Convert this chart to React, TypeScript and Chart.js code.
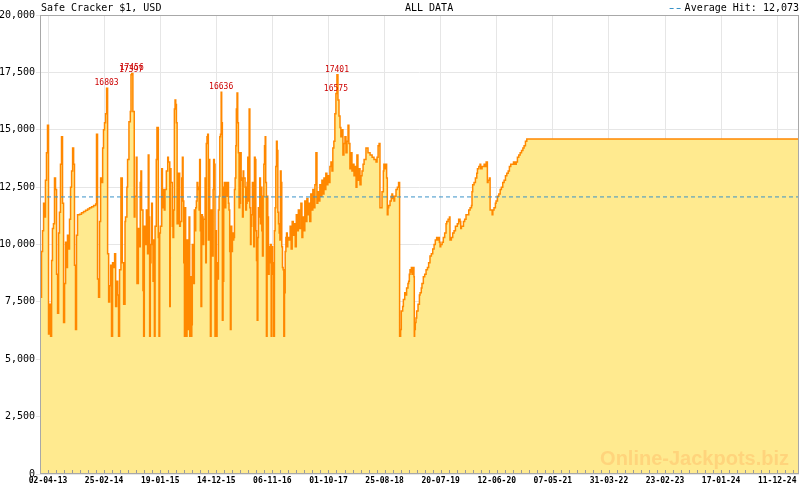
import React, { useEffect, useRef } from 'react';
import { Chart, registerables } from 'chart.js';

Chart.register(...registerables);

// ---- data ----
const chartTitle = 'Safe Cracker $1, USD';
const rangeLabel = 'ALL DATA';
const AVERAGE_HIT = 12073;

// x-axis labels (dd-mm-yy), one every LABEL_STEP_DAYS days starting at day 0 (02-04-13)
const tickLabels = ['02-04-13', '25-02-14', '19-01-15', '14-12-15', '06-11-16', '01-10-17', '25-08-18', '20-07-19', '12-06-20', '07-05-21', '31-03-22', '23-02-23', '17-01-24', '11-12-24'];
const LABEL_STEP_DAYS = 328.5;
const MINOR_PER_LABEL = 7;
const X_MAX_DAYS = 4398;

// jackpot history: days since 02-04-13 and jackpot amount (USD)
const jackpotDays = [
  -44, -38, -32, -26, -21, -15, -9, -3, 3, 9, 15, 21, 26, 32, 38, 44, 50, 56, 62, 67, 73, 79, 85, 91, 97, 103, 108, 114, 120, 126, 132, 138, 144, 150, 155, 161, 167, 173,
  185, 196, 208, 220, 232, 243, 255, 267, 279, 284, 290, 296, 302, 308, 314, 320, 325, 331, 337, 343, 349, 355, 361, 367, 372, 378, 384, 390, 396, 402, 408, 413, 419,
  427, 435, 443, 451, 454, 462, 466, 474, 482, 486, 490, 497, 505, 509, 517, 521, 529, 533, 540, 544, 548, 556, 560, 564, 568, 576, 583, 587, 591, 595, 599, 603, 607, 611, 615, 619, 623, 627, 634, 638, 646, 650, 654, 658, 666, 670, 673, 681, 685, 693, 701, 705, 713, 716, 720, 728, 732, 736, 740, 744, 748, 752, 756, 763, 771, 775, 783, 787, 791, 795, 799, 802, 806, 810, 814, 818, 822, 826, 830, 834, 838, 842, 845, 849, 857, 861, 865, 869, 873, 877, 881, 885, 888,
  892, 896, 900, 904, 908, 912, 920, 924, 927, 931, 935, 939, 943, 947, 951, 955, 959, 963, 967, 970, 974, 978, 982, 986, 990, 994, 998, 1002, 1006, 1010, 1014, 1017, 1021, 1025, 1029, 1033, 1037, 1041, 1045, 1049, 1053, 1057, 1060, 1064, 1068, 1072, 1076, 1080, 1084, 1088, 1092, 1096, 1100, 1103, 1107, 1111, 1115, 1119, 1123, 1127, 1131, 1135, 1139, 1143, 1146, 1150, 1154, 1158, 1162, 1166, 1170, 1174, 1178, 1182, 1186, 1189, 1193, 1197, 1201, 1205, 1209, 1213, 1217, 1221, 1225, 1229, 1232, 1236, 1240, 1244, 1248, 1252, 1256, 1260, 1264, 1268, 1272, 1275, 1279, 1283, 1287, 1291, 1295, 1299, 1303, 1307, 1311, 1315, 1318, 1322, 1326, 1330, 1334, 1338, 1342, 1346, 1350, 1354, 1358, 1361, 1365, 1369, 1373, 1377, 1381, 1385, 1389, 1393, 1397, 1401, 1404, 1408, 1412,
  1418, 1424, 1430, 1436, 1442, 1448, 1454, 1460, 1466, 1472, 1481, 1487, 1492, 1498, 1504, 1510, 1516, 1522, 1528, 1533, 1539, 1545, 1551, 1557, 1563, 1569, 1575, 1580, 1586, 1592, 1598, 1604, 1610, 1616, 1621, 1627, 1633, 1639, 1645, 1651, 1657, 1663, 1668, 1674, 1680, 1686, 1692, 1698, 1704, 1710, 1715, 1721, 1727, 1733, 1739, 1745, 1751, 1757, 1762, 1768, 1774, 1780, 1786, 1792, 1798, 1804, 1809, 1815, 1821, 1827, 1833, 1839, 1845, 1851, 1862, 1874, 1886, 1898, 1909, 1921, 1927, 1933, 1939,
  1944, 1956, 1964, 1967, 1975, 1979, 1983, 1987, 1991, 1995, 2003, 2010, 2014, 2018, 2022, 2026, 2030, 2038, 2046, 2053, 2057, 2059, 2065, 2069, 2077, 2081, 2089, 2096, 2100, 2108, 2112, 2116, 2120, 2124, 2128, 2132, 2136, 2139, 2143, 2145, 2147, 2151, 2155, 2159, 2167, 2175, 2179, 2186, 2190, 2198, 2206, 2214, 2222, 2229, 2237, 2245, 2253, 2261, 2268, 2276, 2284, 2288, 2292, 2296, 2300, 2308, 2315, 2323, 2331, 2335, 2343, 2351, 2354, 2362, 2370, 2378, 2386, 2394, 2397, 2405, 2409, 2413, 2417, 2421, 2429, 2433, 2440, 2448, 2456, 2464, 2472, 2480, 2483, 2487, 2495, 2503, 2511, 2515, 2523, 2530, 2534, 2542, 2550, 2554, 2562, 2566, 2570, 2573, 2577, 2585, 2589, 2597, 2601, 2605, 2612, 2620, 2624, 2632, 2640, 2648, 2655, 2663, 2671, 2679, 2687, 2695, 2702, 2710, 2718, 2726, 2734, 2742, 2749, 2757, 2765, 2773, 2781, 2788, 2796, 2804, 4395,
];
const jackpotValues = [
  7700, 9700, 10600, 11800, 11200, 12800, 14000, 15200, 6100, 7400, 6000, 9300, 10700, 10900, 12900, 12400, 8700, 7000, 10500, 11400, 13500, 14700, 11800, 6600, 8300, 10100, 9000, 10400, 9800, 11100, 12500, 13200, 14200, 13500, 9100, 6300, 10400, 11300,
  11320, 11380, 11440, 11490, 11550, 11600, 11650, 11700, 11760, 14800, 8500, 7700, 11000, 12900, 12700, 14200, 15000, 15300, 15700, 16803, 9600, 7500, 8200, 9100, 6000, 9200, 9000, 9600, 7300, 8400, 7800, 6000, 8900,
  12900, 9200, 7400, 11000, 11200, 12500, 13700, 15350, 15800, 17397, 17456, 15800, 11200, 12100, 13800, 8300, 10700, 9900, 12700, 13200, 11500, 8000, 6000, 10800, 10000, 11500, 9600, 13900, 11200, 6000, 9200, 10000, 11800, 10200, 8400, 10200, 6000, 10800, 13700, 15100, 10300, 6000, 10500, 10800, 13300, 11600, 12400, 11500, 12400, 13200, 13800, 13600, 7300, 13300, 12700, 10800, 10300, 11500, 15900, 16300, 16100, 15300, 10900, 13100, 10800, 11000, 12900, 13800, 11900, 9200, 6000, 11600, 6400, 6000, 10200, 9300, 6300, 11200, 6000, 8600, 6000, 6500, 10000, 8300, 11500, 10600, 11600, 11900, 12700, 12400, 12500, 11500, 13700,
  10600, 7300, 11300, 11200, 10000, 11100, 12900, 9200, 14400, 14700, 14800, 10200, 13700, 11500, 6000, 10600, 11500, 9500, 12400, 13700, 13500, 6000, 10600, 6000, 9200, 8500, 11500, 12100, 14700, 14800, 16636, 15300, 6700, 8400, 12500, 12700, 11600, 12700, 12100, 12500, 12700, 11800, 11500, 9700, 6300, 10800, 9700, 10500, 10200, 10300, 12400, 12900, 14300, 15900, 16600, 15300, 14000, 11600, 11800, 14000, 12900, 12800, 11200, 13200, 12900, 12900, 12500, 11500, 11800, 12700, 13800, 11900, 15900, 11600, 10000, 10800, 11300, 12700, 12100, 9900, 13800, 13700, 10600, 9300, 6700, 10300, 11600, 11200, 12900, 10900, 12500, 10600, 9500, 12100, 13500, 14300, 14700, 12700, 6000, 12100, 11200, 8700, 9900, 9200, 10000, 6000, 9900, 9200, 8700, 6000, 10600, 11600, 13400, 14500, 14100, 11400, 10900, 10500, 10200, 13200, 12700, 9900, 9000, 8900, 6000, 7900, 9700, 10300, 10500, 9900, 10200, 10300, 10200,
  10800, 9800, 11000, 10400, 10900, 9900, 11300, 10600, 11500, 10700, 11800, 10300, 11200, 10600, 11900, 11000, 12000, 11300, 11800, 11000, 12200, 11500, 12400, 11600, 12600, 14000, 11800, 12300, 11900, 12600, 12100, 12800, 12200, 12900, 12400, 13100, 12600, 13000, 12700, 13400, 13600, 13200, 14200, 14500, 15700, 16575, 17401, 16300, 15600, 15100, 14700, 15000, 13900, 14400, 14700, 14000, 14500, 15200, 14400, 13300, 14000, 13200, 13500, 13000, 13400, 12500, 13900, 12800, 13300, 12600, 13000, 13200, 13500, 13700, 14200, 14000, 13900, 13800, 13700, 13600, 13800, 14300, 14400,
  11600, 12300, 13200, 13500, 13300, 13500, 12900, 11300, 11600, 11700, 11900, 12100, 12200, 12000, 12100, 11900, 12100, 12400, 12500, 12700, 12700, 6000, 6300, 7100, 7300, 7600, 7900, 7800, 8100, 8300, 8400, 8700, 8900, 8800, 9000, 8700, 8900, 9000, 8600, 6000, 6300, 6600, 6800, 7100, 7400, 7800, 7900, 8100, 8300, 8600, 8700, 8900, 9000, 9200, 9500, 9600, 9800, 10000, 10200, 10300, 10200, 10300, 10100, 9900, 10000, 10100, 10300, 10500, 10900, 11000, 11100, 11200, 10200, 10300, 10500, 10600, 10800, 10800, 10900, 11100, 11100, 11000, 10700, 10800, 10800, 11000, 11100, 11300, 11300, 11500, 11600, 11700, 12300, 12600, 12700, 12900, 13100, 13300, 13400, 13500, 13300, 13400, 13400, 13500, 13400, 13600, 13600, 12700, 12800, 12900, 11500, 11500, 11300, 11500, 11600, 11800, 11900, 12100, 12200, 12400, 12500, 12700, 12800, 13000, 13100, 13200, 13400, 13500, 13500, 13600, 13500, 13600, 13800, 13900, 14000, 14100, 14200, 14300, 14500, 14600, 14600,
];

// labelled top hits
const peakDays = [343, 486, 490, 1014, 1686, 1692];
const peakValues = [16803, 17397, 17456, 16636, 16575, 17401];

const watermark = 'Online-Jackpots.biz';

// ---- styles ----
const ORANGE = '#ff8800';
const FILL = '#ffea8f';
const AVG_BLUE = '#3a93c8';
const GRID = '#e6e6e6';
const AXIS = '#a8a8a8';
const MONO = '"DejaVu Sans Mono", monospace';

const decorPlugin = {
  id: 'decor',
  afterDatasetsDraw(chart: any) {
    const { ctx, chartArea: a, scales } = chart;
    const x = scales.x;
    const y = scales.y;
    ctx.save();
    // watermark
    ctx.font = 'bold 20px "Liberation Sans", sans-serif';
    ctx.fillStyle = '#ffd47c';
    ctx.textAlign = 'right';
    ctx.textBaseline = 'alphabetic';
    ctx.fillText(watermark, a.right - 10, a.bottom - 9);
    // minor tick marks on x axis, pointing up
    ctx.strokeStyle = '#9a9a9a';
    ctx.lineWidth = 1;
    x.ticks.forEach((t: any) => {
      const px = Math.round(x.getPixelForValue(t.value)) + 0.5;
      ctx.beginPath();
      ctx.moveTo(px, a.bottom);
      ctx.lineTo(px, a.bottom - 4);
      ctx.stroke();
    });
    // frame
    ctx.strokeStyle = AXIS;
    ctx.strokeRect(Math.round(a.left) + 0.5, Math.round(a.top) + 0.5, Math.round(a.right - a.left) - 1, Math.round(a.bottom - a.top) - 1);
    // peak annotations
    ctx.font = '8px ' + MONO;
    ctx.fillStyle = '#cc0000';
    ctx.textAlign = 'center';
    ctx.textBaseline = 'bottom';
    peakDays.forEach((d, i) => {
      ctx.fillText(String(peakValues[i]), x.getPixelForValue(d), y.getPixelForValue(peakValues[i]) - 1);
    });
    ctx.restore();
  },
  afterDraw(chart: any) {
    const { ctx, chartArea: a } = chart;
    ctx.save();
    ctx.font = '10px ' + MONO;
    ctx.fillStyle = '#000';
    ctx.textBaseline = 'middle';
    ctx.textAlign = 'left';
    ctx.fillText(chartTitle, a.left + 1, 8);
    ctx.fillText(rangeLabel, 405, 8);
    ctx.textAlign = 'right';
    const legendText = 'Average Hit: ' + AVERAGE_HIT.toLocaleString('en-US');
    ctx.fillText(legendText, a.right, 8);
    const w = ctx.measureText(legendText).width;
    ctx.strokeStyle = AVG_BLUE;
    ctx.lineWidth = 1;
    ctx.setLineDash([4, 3]);
    ctx.beginPath();
    ctx.moveTo(a.right - w - 15, 8.5);
    ctx.lineTo(a.right - w - 2, 8.5);
    ctx.stroke();
    ctx.restore();
  },
};

export default function App() {
  const ref = useRef<HTMLCanvasElement>(null);
  useEffect(() => {
    if (!ref.current) return;
    const xMin = -LABEL_STEP_DAYS / MINOR_PER_LABEL;
    const points = jackpotDays.map((d, i) => ({ x: d, y: jackpotValues[i] }));
    const chart = new Chart(ref.current, {
      type: 'line',
      data: {
        datasets: [
          {
            label: 'Average Hit',
            data: [
              { x: xMin, y: AVERAGE_HIT },
              { x: X_MAX_DAYS, y: AVERAGE_HIT },
            ],
            borderColor: AVG_BLUE,
            borderWidth: 1,
            borderDash: [4, 3],
            pointRadius: 0,
            fill: false,
          },
          {
            label: chartTitle,
            data: points,
            stepped: true,
            borderColor: ORANGE,
            borderWidth: 1.5,
            backgroundColor: FILL,
            fill: 'origin',
            pointRadius: 0,
          },
        ],
      },
      options: {
        animation: false,
        responsive: false,
        maintainAspectRatio: false,
        layout: { padding: { top: 15, right: 1, left: 0, bottom: 0 } },
        plugins: { legend: { display: false }, tooltip: { enabled: false }, title: { display: false } },
        scales: {
          x: {
            type: 'linear',
            min: xMin,
            max: X_MAX_DAYS,
            afterBuildTicks: (scale: any) => {
              const ticks: any[] = [];
              for (let k = 0; ; k++) {
                const v = xMin + k * (LABEL_STEP_DAYS / MINOR_PER_LABEL);
                if (v > X_MAX_DAYS) break;
                ticks.push({ value: v });
              }
              scale.ticks = ticks;
            },
            ticks: {
              autoSkip: false,
              maxRotation: 0,
              minRotation: 0,
              padding: 2,
              color: '#000',
              font: { family: MONO, size: 8, weight: 'bold' },
              callback: (_v: any, i: number) => ((i - 1) % MINOR_PER_LABEL === 0 ? tickLabels[(i - 1) / MINOR_PER_LABEL] ?? '' : ''),
            },
            grid: {
              drawTicks: false,
              color: (c: any) => ((c.index - 1) % MINOR_PER_LABEL === 0 ? GRID : 'rgba(0,0,0,0)'),
            },
            border: { display: false },
            afterFit: (s: any) => {
              s.height = 16;
            },
          },
          y: {
            min: 0,
            max: 20000,
            ticks: {
              stepSize: 2500,
              padding: 1,
              color: '#000',
              font: { family: MONO, size: 10 },
              callback: (v: any) => Number(v).toLocaleString('en-US'),
            },
            grid: { color: GRID, tickLength: 4 },
            border: { display: false },
            afterFit: (s: any) => {
              s.width = 40;
            },
          },
        },
      },
      plugins: [decorPlugin],
    } as any);
    return () => chart.destroy();
  }, []);
  return (
    <div style={{ position: 'fixed', left: 0, top: 0, width: 800, height: 490, background: '#fff' }}>
      <canvas ref={ref} width={800} height={490} style={{ width: 800, height: 490 }} />
    </div>
  );
}
